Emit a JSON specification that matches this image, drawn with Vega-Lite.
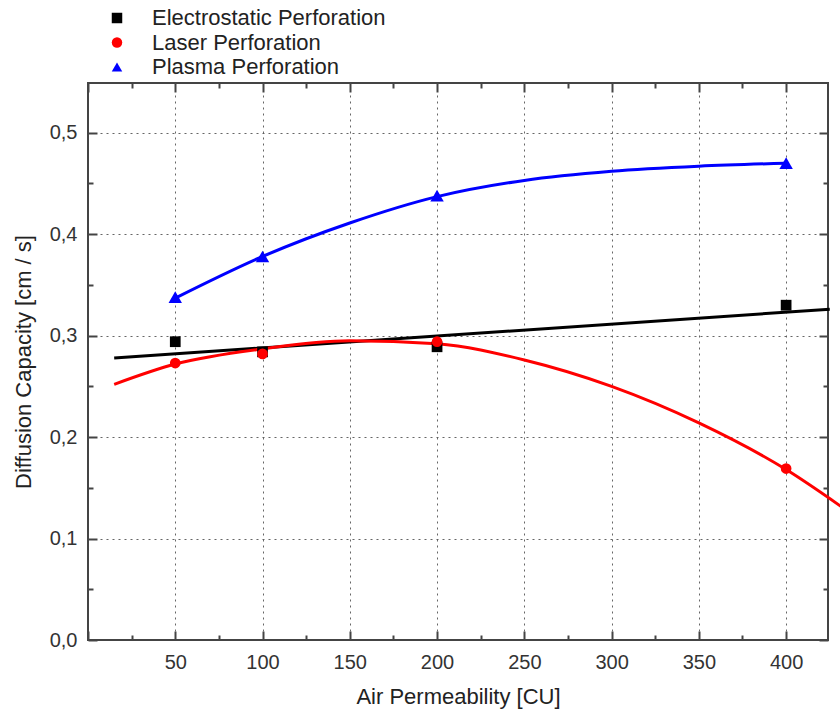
{
  "$schema": "https://vega.github.io/schema/vega-lite/v6.json",
  "autosize": {"type": "none"},
  "width": 740,
  "height": 557,
  "padding": {"left": 88, "top": 83, "right": 12, "bottom": 72},
  "background": "white",
  "config": {
    "font": "Liberation Sans",
    "view": {"stroke": "#444", "strokeWidth": 2},
    "axis": {"domain": false},
    "legend": {
      "orient": "none", "legendX": 18, "legendY": -76, "direction": "vertical",
      "labelFontSize": 22, "labelColor": "#222", "labelOffset": 24, "labelLimit": 400,
      "symbolSize": 110, "rowPadding": 2.5, "padding": 0, "symbolStrokeWidth": 0
    }
  },
  "datasets": {
    "pts": [
      {"series": "Electrostatic Perforation", "air": 50, "cap": 0.294},
      {"series": "Electrostatic Perforation", "air": 100, "cap": 0.284},
      {"series": "Electrostatic Perforation", "air": 200, "cap": 0.289},
      {"series": "Electrostatic Perforation", "air": 400, "cap": 0.330},
      {"series": "Laser Perforation", "air": 50, "cap": 0.273},
      {"series": "Laser Perforation", "air": 100, "cap": 0.282},
      {"series": "Laser Perforation", "air": 200, "cap": 0.294},
      {"series": "Laser Perforation", "air": 400, "cap": 0.169},
      {"series": "Plasma Perforation", "air": 50, "cap": 0.338},
      {"series": "Plasma Perforation", "air": 100, "cap": 0.378},
      {"series": "Plasma Perforation", "air": 200, "cap": 0.438},
      {"series": "Plasma Perforation", "air": 400, "cap": 0.470}
    ],
    "fits": [
      {"curve": "Electrostatic fit", "air": 15, "cap": 0.278},
      {"curve": "Electrostatic fit", "air": 425, "cap": 0.326},
      {"curve": "Laser fit", "air": 15, "cap": 0.252},
      {"curve": "Laser fit", "air": 50, "cap": 0.272},
      {"curve": "Laser fit", "air": 100, "cap": 0.287},
      {"curve": "Laser fit", "air": 150, "cap": 0.295},
      {"curve": "Laser fit", "air": 200, "cap": 0.292},
      {"curve": "Laser fit", "air": 250, "cap": 0.276},
      {"curve": "Laser fit", "air": 300, "cap": 0.250},
      {"curve": "Laser fit", "air": 350, "cap": 0.214},
      {"curve": "Laser fit", "air": 400, "cap": 0.168},
      {"curve": "Laser fit", "air": 432, "cap": 0.131},
      {"curve": "Plasma fit", "air": 50, "cap": 0.337},
      {"curve": "Plasma fit", "air": 100, "cap": 0.378},
      {"curve": "Plasma fit", "air": 150, "cap": 0.411},
      {"curve": "Plasma fit", "air": 200, "cap": 0.437},
      {"curve": "Plasma fit", "air": 250, "cap": 0.453},
      {"curve": "Plasma fit", "air": 300, "cap": 0.462},
      {"curve": "Plasma fit", "air": 350, "cap": 0.467},
      {"curve": "Plasma fit", "air": 400, "cap": 0.470}
    ]
  },
  "layer": [
    {
      "data": {"name": "fits"},
      "mark": {"type": "line", "interpolate": "monotone", "strokeWidth": 3},
      "encoding": {
        "x": {"field": "air", "type": "quantitative", "scale": {"domain": [0, 424], "nice": false, "zero": false}, "axis": null},
        "y": {"field": "cap", "type": "quantitative", "scale": {"domain": [0, 0.549], "nice": false}, "axis": null},
        "stroke": {"field": "curve", "type": "nominal", "legend": null,
          "scale": {"domain": ["Electrostatic fit", "Laser fit", "Plasma fit"], "range": ["#000000", "#ff0000", "#0000ff"]}}
      }
    },
    {
      "data": {"name": "pts"},
      "mark": {"type": "point", "filled": true, "opacity": 1},
      "encoding": {
        "x": {"field": "air", "type": "quantitative", "scale": {"domain": [0, 424], "nice": false, "zero": false},
          "title": "Air Permeability [CU]",
          "axis": {
            "orient": "bottom",
            "values": [0, 25, 50, 75, 100, 125, 150, 175, 200, 225, 250, 275, 300, 325, 350, 375, 400],
            "labelExpr": "datum.value % 50 === 0 && datum.value > 0 ? datum.label : ''",
            "tickSize": {"condition": {"test": "datum.value % 50 === 0", "value": -9}, "value": -5},
            "tickColor": "#444", "tickWidth": 2,
            "grid": true,
            "gridColor": "#555", "gridDash": [2, 4], "gridWidth": 1,
            "gridOpacity": {"condition": {"test": "datum.value % 50 === 0 && datum.value > 0", "value": 0.9}, "value": 0},
            "labelPadding": 21,
            "labelFontSize": 20, "labelColor": "#333",
            "titleFontSize": 22, "titleFontWeight": "normal", "titleColor": "#222", "titlePadding": 14
          }},
        "y": {"field": "cap", "type": "quantitative", "scale": {"domain": [0, 0.549], "nice": false},
          "title": "Diffusion Capacity [cm / s]",
          "axis": {
            "orient": "left",
            "values": [0, 0.05, 0.1, 0.15, 0.2, 0.25, 0.3, 0.35, 0.4, 0.45, 0.5],
            "labelExpr": "round(datum.value * 100) % 10 === 0 ? replace(format(datum.value, '.1f'), '.', ',') : ''",
            "tickSize": {"condition": {"test": "round(datum.value * 100) % 10 === 0", "value": -9}, "value": -5},
            "tickColor": "#444", "tickWidth": 2,
            "grid": true,
            "gridColor": "#555", "gridDash": [2, 4], "gridWidth": 1,
            "gridOpacity": {"condition": {"test": "round(datum.value * 100) % 10 === 0 && datum.value > 0", "value": 0.9}, "value": 0},
            "labelPadding": 20,
            "labelFontSize": 20, "labelColor": "#333",
            "titleFontSize": 22, "titleFontWeight": "normal", "titleColor": "#222", "titlePadding": 14
          }},
        "size": {"condition": {"test": "datum.series === 'Plasma Perforation'", "value": 180}, "value": 115},
        "color": {"field": "series", "type": "nominal",
          "scale": {"domain": ["Electrostatic Perforation", "Laser Perforation", "Plasma Perforation"], "range": ["#000000", "#ff0000", "#0000ff"]},
          "legend": {"title": null, "orient": "none", "legendX": 18, "legendY": -76,
            "symbolType": "square",
            "encode": {"symbols": {"update": {"size": {"signal": "datum.value === 'Plasma Perforation' ? 170 : 110"}}}}}},
        "shape": {"field": "series", "type": "nominal",
          "scale": {"domain": ["Electrostatic Perforation", "Laser Perforation", "Plasma Perforation"], "range": ["square", "circle", "triangle-up"]},
          "legend": {"title": null, "orient": "none", "legendX": 18, "legendY": -76,
            "encode": {"symbols": {"update": {"size": {"signal": "datum.value === 'Plasma Perforation' ? 170 : 110"}}}}}}
      }
    },
    {
      "data": {"name": "pts"},
      "mark": {"type": "point", "opacity": 0},
      "encoding": {
        "x": {"field": "air", "type": "quantitative", "scale": {"domain": [0, 424], "nice": false, "zero": false},
          "axis": {
            "orient": "top", "title": null, "labels": false, "grid": false,
            "values": [0, 25, 50, 75, 100, 125, 150, 175, 200, 225, 250, 275, 300, 325, 350, 375, 400],
            "tickSize": {"condition": {"test": "datum.value % 50 === 0", "value": -9}, "value": -5},
            "tickColor": "#444", "tickWidth": 2
          }},
        "y": {"field": "cap", "type": "quantitative", "scale": {"domain": [0, 0.549], "nice": false},
          "axis": {
            "orient": "right", "title": null, "labels": false, "grid": false,
            "values": [0, 0.05, 0.1, 0.15, 0.2, 0.25, 0.3, 0.35, 0.4, 0.45, 0.5],
            "tickSize": {"condition": {"test": "round(datum.value * 100) % 10 === 0", "value": -9}, "value": -5},
            "tickColor": "#444", "tickWidth": 2
          }}
      }
    }
  ],
  "resolve": {"axis": {"x": "independent", "y": "independent"}}
}
